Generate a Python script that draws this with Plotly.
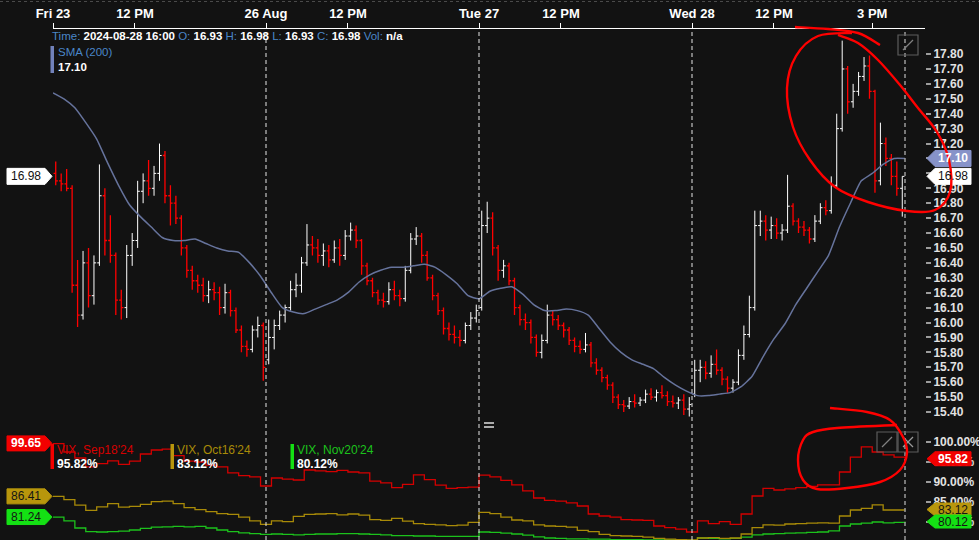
import plotly.graph_objects as go

# ---------------- DATA ----------------
# time axis: trading minutes since Fri 23 Aug 09:30 (regular sessions joined)
tick_vals = [0, 150, 390, 540, 780, 930, 1170, 1320, 1500]
tick_text = ["Fri 23", "12 PM", "26 Aug", "12 PM", "Tue 27", "12 PM", "Wed 28", "12 PM", "3 PM"]
session_breaks = [390, 780, 1170]
cursor_t = 1560

# 10-minute OHLC bars (bar centres)
bar_t = [5 + 10 * i for i in range(156)]

open_fri = [17.00,16.95,16.93,16.90,16.25,16.05,16.40,16.18,16.40,16.85,16.55,16.45,16.15,16.10,16.45,16.55,16.88,16.95,16.90,17.00,17.12,16.85,16.80,16.70,16.50,16.35,16.28,16.25,16.18,16.22,16.20,16.10,16.20,16.08,15.95,15.84,15.82,15.95,15.98]
high_fri = [17.08,17.00,17.03,16.92,16.42,16.48,16.50,16.45,17.06,16.90,16.72,16.47,16.22,16.52,16.60,16.95,17.00,17.09,17.05,17.20,17.15,16.92,16.85,16.72,16.52,16.38,16.32,16.30,16.28,16.27,16.24,16.26,16.22,16.10,15.98,15.88,15.98,16.04,16.00]
low_fri = [16.92,16.88,16.88,16.20,15.97,16.02,16.10,16.12,16.38,16.45,16.40,16.05,16.02,16.03,16.38,16.50,16.80,16.85,16.85,16.95,16.80,16.65,16.66,16.45,16.30,16.22,16.20,16.14,16.13,16.15,16.05,16.06,16.04,15.93,15.80,15.77,15.80,15.90,15.61]
close_fri = [16.95,16.93,16.90,16.25,16.05,16.40,16.18,16.40,16.85,16.55,16.45,16.15,16.10,16.45,16.55,16.88,16.95,16.90,17.00,17.12,16.85,16.80,16.70,16.50,16.35,16.28,16.25,16.18,16.22,16.20,16.10,16.20,16.08,15.95,15.84,15.82,15.95,15.98,15.70]

open_mon = [15.75,15.90,15.98,16.05,16.10,16.22,16.25,16.40,16.52,16.50,16.45,16.48,16.42,16.50,16.45,16.58,16.62,16.55,16.38,16.28,16.20,16.15,16.14,16.22,16.18,16.16,16.35,16.56,16.58,16.45,16.30,16.18,16.08,15.96,15.92,15.90,15.88,15.98,16.03]
high_mon = [16.02,16.02,16.08,16.12,16.28,16.33,16.44,16.66,16.58,16.56,16.53,16.52,16.55,16.56,16.62,16.67,16.65,16.56,16.40,16.30,16.22,16.20,16.27,16.28,16.22,16.38,16.60,16.64,16.60,16.48,16.32,16.20,16.10,16.00,15.98,15.95,16.00,16.07,16.12]
low_mon = [15.72,15.82,15.95,16.00,16.08,16.17,16.20,16.38,16.45,16.40,16.38,16.37,16.40,16.38,16.42,16.55,16.50,16.32,16.25,16.17,16.12,16.10,16.12,16.15,16.11,16.14,16.33,16.52,16.40,16.28,16.15,16.05,15.92,15.88,15.86,15.84,15.86,15.95,16.00]
close_mon = [15.90,15.98,16.05,16.10,16.22,16.25,16.40,16.52,16.50,16.45,16.48,16.42,16.50,16.45,16.58,16.62,16.55,16.38,16.28,16.20,16.15,16.14,16.22,16.18,16.16,16.35,16.56,16.58,16.45,16.30,16.18,16.08,15.96,15.92,15.90,15.88,15.98,16.03,16.08]

open_tue = [16.10,16.65,16.70,16.50,16.35,16.38,16.28,16.10,16.02,16.00,15.90,15.80,15.88,16.05,16.02,15.98,15.95,15.88,15.84,15.82,15.85,15.73,15.68,15.63,15.58,15.50,15.45,15.44,15.47,15.46,15.48,15.52,15.50,15.53,15.51,15.47,15.46,15.48,15.42]
high_tue = [16.75,16.81,16.74,16.52,16.42,16.40,16.30,16.12,16.06,16.02,15.92,15.92,16.12,16.08,16.05,16.00,15.97,15.90,15.88,15.93,15.87,15.76,15.70,15.65,15.60,15.52,15.48,15.50,15.52,15.50,15.55,15.56,15.55,15.58,15.54,15.51,15.50,15.52,15.50]
low_tue = [16.08,16.60,16.45,16.28,16.30,16.25,16.05,15.98,15.95,15.86,15.77,15.76,15.86,15.98,15.95,15.90,15.85,15.80,15.79,15.80,15.70,15.65,15.60,15.55,15.46,15.42,15.40,15.42,15.43,15.44,15.46,15.48,15.47,15.49,15.44,15.43,15.42,15.38,15.37]
close_tue = [16.65,16.70,16.50,16.35,16.38,16.28,16.10,16.02,16.00,15.90,15.80,15.88,16.05,16.02,15.98,15.95,15.88,15.84,15.82,15.85,15.73,15.68,15.63,15.58,15.50,15.45,15.44,15.47,15.46,15.48,15.52,15.50,15.53,15.51,15.47,15.46,15.48,15.42,15.45]

open_wed = [15.52,15.68,15.70,15.66,15.72,15.68,15.62,15.56,15.60,15.78,15.92,16.10,16.65,16.68,16.62,16.65,16.60,16.62,16.78,16.68,16.64,16.62,16.56,16.68,16.77,16.75,16.92,17.30,17.70,17.48,17.55,17.65,17.72,17.55,16.95,17.20,17.10,16.98,16.90]
high_wed = [15.75,15.75,15.74,15.78,15.82,15.70,15.64,15.62,15.82,15.98,16.18,16.75,16.75,16.72,16.71,16.70,16.66,16.99,16.80,16.70,16.68,16.64,16.72,16.80,16.82,16.98,17.40,17.89,17.72,17.60,17.68,17.78,17.79,17.56,17.34,17.24,17.13,17.08,16.98]
low_wed = [15.50,15.60,15.62,15.63,15.65,15.58,15.53,15.53,15.58,15.75,15.90,16.08,16.58,16.55,16.56,16.56,16.55,16.60,16.65,16.60,16.58,16.53,16.54,16.66,16.72,16.73,16.90,17.28,17.40,17.44,17.52,17.62,17.50,16.87,16.92,17.05,16.92,16.85,16.71]
close_wed = [15.68,15.70,15.66,15.72,15.68,15.62,15.56,15.60,15.78,15.92,16.10,16.65,16.68,16.62,16.65,16.60,16.62,16.78,16.68,16.64,16.62,16.56,16.68,16.77,16.75,16.92,17.30,17.70,17.48,17.55,17.65,17.72,17.55,16.95,17.20,17.10,16.98,16.90,16.98]

# SMA(200) and VIX futures % lines, sampled every 20 minutes
line_t = list(range(0, 1561, 20))
sma200 = [17.54,17.50,17.44,17.34,17.23,17.07,16.92,16.79,16.71,16.64,
          16.57,16.55,16.55,16.56,16.53,16.50,16.48,16.47,16.40,16.31,
          16.20,16.10,16.07,16.06,16.09,16.12,16.15,16.20,16.27,16.32,
          16.35,16.37,16.37,16.38,16.39,16.37,16.32,16.26,16.18,16.16,
          16.21,16.23,16.24,16.19,16.12,16.08,16.08,16.09,16.08,16.05,
          15.96,15.87,15.80,15.75,15.72,15.69,15.63,15.58,15.54,15.51,
          15.51,15.52,15.53,15.57,15.64,15.77,15.89,15.99,16.12,16.23,
          16.34,16.45,16.64,16.80,16.95,17.00,17.06,17.10,17.10]
vix_sep = [99.6,97.5,96.0,93.8,94.6,95.3,94.4,95.2,97.0,98.0,
           98.2,96.6,95.2,95.0,94.2,93.8,92.3,91.6,91.3,89.0,
           91.0,90.7,90.5,93.0,92.8,92.6,92.9,92.5,92.3,90.2,
           89.8,88.6,89.4,91.8,90.6,89.2,88.4,88.6,88.7,91.7,
           91.3,90.4,89.3,87.8,86.0,85.4,85.2,84.8,84.0,82.0,
           81.5,81.2,80.6,80.5,80.4,79.0,78.6,78.2,77.5,80.3,
           79.6,80.1,79.4,82.0,86.5,88.4,88.0,88.3,88.6,88.9,
           89.3,89.3,92.5,96.2,98.8,97.5,96.8,96.2,95.82]
vix_oct = [86.4,85.6,84.2,82.9,83.8,84.6,83.7,83.9,84.4,85.1,
           85.2,84.6,83.6,83.1,82.6,82.1,81.9,81.2,80.3,79.4,
           80.3,80.1,81.4,81.9,82.0,82.1,81.8,82.0,81.7,80.6,
           80.4,80.9,80.2,79.6,79.4,79.3,79.1,79.2,79.9,82.4,
           82.1,81.2,80.5,80.3,79.3,79.0,78.9,78.7,77.9,77.6,
           76.9,76.6,76.5,76.4,76.2,75.9,75.7,75.6,75.5,76.0,
           76.1,75.9,76.0,77.0,78.6,79.3,79.2,79.5,79.6,79.7,
           79.8,79.7,81.5,83.0,83.4,84.3,83.0,83.0,83.12]
vix_nov = [81.2,80.3,78.5,77.6,77.5,77.6,77.7,78.0,78.4,78.7,
           78.8,78.9,78.8,78.9,78.5,78.0,77.6,77.3,77.1,76.9,
           77.0,76.9,76.8,76.9,77.0,77.0,77.1,77.1,77.0,76.9,
           76.8,76.6,76.6,76.5,76.5,76.4,76.4,76.4,76.4,77.5,
           77.4,77.2,77.0,76.7,76.3,76.0,75.9,75.8,75.8,75.7,
           75.7,75.6,75.6,75.6,75.5,75.5,75.5,75.4,75.4,76.0,
           75.9,75.8,75.9,76.2,76.8,77.0,77.1,77.2,77.3,77.4,
           77.5,77.8,79.0,79.5,79.7,80.0,79.8,79.9,80.12]

price_ticks = ["15.40","15.50","15.60","15.70","15.80","15.90","16.00","16.10","16.20","16.30",
               "16.40","16.50","16.60","16.70","16.80","16.90","17.00","17.10","17.20","17.30",
               "17.40","17.50","17.60","17.70","17.80"]
pct_ticks = [80, 85, 90, 95, 100]

last_close = 16.98
sma_last = 17.10
vix_names = ["VIX, Sep18'24", "VIX, Oct16'24", "VIX, Nov20'24"]
vix_last = [95.82, 83.12, 80.12]
vix_first = [99.65, 86.41, 81.24]

# ---------------- STYLE ----------------
W, H = 979, 540
ML, MR, MT, MB = 53, 54, 29, 0
PW, PH = W - ML - MR, H - MT - MB
BG = "#121212"
FONT = "Liberation Sans, Arial, sans-serif"
BLUE_LBL = "#4a86c8"
C_SEP, C_OCT, C_NOV = "#d40000", "#a88a08", "#1cc21c"
B_SEP, B_OCT, B_NOV = "#f20000", "#b8960c", "#14e014"


def px(x):
    return (x - ML) / PW


def py(y):
    return (H - MB - y) / PH


def smooth_path(pts):
    P = [(px(a), py(b)) for a, b in pts]
    n = len(P)
    d = "M %.5f,%.5f" % P[0]
    for i in range(n - 1):
        p0 = P[i - 1] if i > 0 else P[i]
        p1, p2 = P[i], P[i + 1]
        p3 = P[i + 2] if i + 2 < n else P[i + 1]
        c1 = (p1[0] + (p2[0] - p0[0]) / 6, p1[1] + (p2[1] - p0[1]) / 6)
        c2 = (p2[0] - (p3[0] - p1[0]) / 6, p2[1] - (p3[1] - p1[1]) / 6)
        d += " C %.5f,%.5f %.5f,%.5f %.5f,%.5f" % (c1[0], c1[1], c2[0], c2[1], p2[0], p2[1])
    return d


opens = open_fri + open_mon + open_tue + open_wed
highs = high_fri + high_mon + high_tue + high_wed
lows = low_fri + low_mon + low_tue + low_wed
closes = close_fri + close_mon + close_tue + close_wed

fig = go.Figure()
fig.add_trace(go.Ohlc(x=bar_t, open=opens, high=highs, low=lows, close=closes,
                      increasing=dict(line=dict(color="#ffffff", width=1)),
                      decreasing=dict(line=dict(color="#ff0000", width=1.3)),
                      tickwidth=0.4, hoverinfo="skip", yaxis="y"))
fig.add_trace(go.Scatter(x=line_t, y=sma200, mode="lines", yaxis="y",
                         line=dict(color="#66739c", width=1.5, shape="spline", smoothing=0.5),
                         hoverinfo="skip"))
for vals, col in [(vix_nov, C_NOV), (vix_oct, C_OCT), (vix_sep, C_SEP)]:
    fig.add_trace(go.Scatter(x=line_t, y=vals, mode="lines", yaxis="y2",
                             line=dict(color=col, width=1.3, shape="hv"), hoverinfo="skip"))

shapes = []
annots = []

# session separators & cursor
for t in session_breaks:
    shapes.append(dict(type="line", xref="x", yref="paper", x0=t, x1=t, y0=0, y1=1,
                       line=dict(color="#e6e6e6", width=1, dash="4px,3px"), layer="above"))
shapes.append(dict(type="line", xref="x", yref="paper", x0=cursor_t, x1=cursor_t, y0=0, y1=1,
                   line=dict(color="#9a9a9a", width=1.5, dash="4px,3px"), layer="above"))
shapes.append(dict(type="line", xref="paper", yref="paper", x0=px(0), x1=px(W), y0=py(1.5), y1=py(1.5),
                   line=dict(color="#4a4a4a", width=1, dash="3px,3px")))


def value_box(yref, yval, side, fill, text, tcolor, half, bold):
    if side == "right":
        tip = 927
        path = "M 0,0 L 8,%g L 44,%g L 44,%g L 8,%g Z" % (half, half, -half, -half)
        cx = tip + 26
    else:
        tip = 52
        path = "M 0,0 L -7,%g L -45,%g L -45,%g L -7,%g Z" % (half, half, -half, -half)
        cx = tip - 26
    shapes.append(dict(type="path", xref="paper", yref=yref, xsizemode="pixel", ysizemode="pixel",
                       xanchor=px(tip), yanchor=yval, path=path, fillcolor=fill,
                       line=dict(color=fill, width=1), layer="above"))
    annots.append(dict(x=px(cx), y=yval, xref="paper", yref=yref, text=text, showarrow=False,
                       xanchor="center", yanchor="middle",
                       font=dict(family=FONT, size=12, color=tcolor, weight="bold" if bold else "normal")))


value_box("y", sma_last, "right", "#8793c9", "%.2f" % sma_last, "#ffffff", 8, True)
value_box("y", last_close, "right", "#ffffff", "%.2f" % last_close, "#111111", 8, False)
value_box("y", last_close, "left", "#ffffff", "%.2f" % last_close, "#111111", 8, False)
value_box("y2", vix_last[0], "right", B_SEP, "%.2f" % vix_last[0], "#ffffff", 7, True)
value_box("y2", vix_last[1], "right", B_OCT, "%.2f" % vix_last[1], "#151515", 6.5, False)
value_box("y2", vix_last[2], "right", B_NOV, "%.2f" % vix_last[2], "#151515", 6.5, False)
value_box("y2", vix_first[0], "left", B_SEP, "%.2f" % vix_first[0], "#ffffff", 7.5, True)
value_box("y2", vix_first[1], "left", B_OCT, "%.2f" % vix_first[1], "#151515", 7.5, False)
value_box("y2", vix_first[2], "left", B_NOV, "%.2f" % vix_first[2], "#151515", 7.5, False)

# top-left info
def lbl(s):
    return '<span style="color:%s">%s</span>' % (BLUE_LBL, s)


info = (lbl("Time:") + " <b>2024-08-28 16:00</b> " + lbl("O:") + " <b>16.93</b> " + lbl("H:") +
        " <b>16.98</b> " + lbl("L:") + " <b>16.93</b> " + lbl("C:") + " <b>16.98</b> " +
        lbl("Vol:") + " <b>n/a</b>")
annots.append(dict(x=px(50), y=py(36), xref="paper", yref="paper", text=info, showarrow=False,
                   xanchor="left", yanchor="middle", font=dict(family=FONT, size=11.5, color="#ffffff")))
shapes.append(dict(type="rect", xref="paper", yref="paper", x0=px(50.5), x1=px(54), y0=py(46), y1=py(73),
                   fillcolor="#7282bb", line=dict(width=0)))
annots.append(dict(x=px(56), y=py(52), xref="paper", yref="paper", text="SMA (200)", showarrow=False,
                   xanchor="left", yanchor="middle", font=dict(family=FONT, size=11.5, color=BLUE_LBL)))
annots.append(dict(x=px(56), y=py(67), xref="paper", yref="paper", text="%.2f" % sma_last, showarrow=False,
                   xanchor="left", yanchor="middle",
                   font=dict(family=FONT, size=11.5, color="#ffffff", weight="bold")))

# VIX legend entries
for bx, name, col, bar, last in [(50.5, vix_names[0], C_SEP, B_SEP, vix_last[0]),
                                 (170.5, vix_names[1], C_OCT, B_OCT, vix_last[1]),
                                 (290.5, vix_names[2], C_NOV, B_NOV, vix_last[2])]:
    shapes.append(dict(type="rect", xref="paper", yref="paper", x0=px(bx), x1=px(bx + 3.5),
                       y0=py(444), y1=py(469), fillcolor=bar, line=dict(width=0), layer="above"))
    annots.append(dict(x=px(bx + 4.5), y=py(449.5), xref="paper", yref="paper", text=name, showarrow=False,
                       xanchor="left", yanchor="middle", font=dict(family=FONT, size=12, color=col)))
    annots.append(dict(x=px(bx + 4.5), y=py(464), xref="paper", yref="paper", text="%.2f%%" % last,
                       showarrow=False, xanchor="left", yanchor="middle",
                       font=dict(family=FONT, size=12, color="#ffffff", weight="bold")))

# small UI icons
for x0, y0 in [(898, 35), (877, 432), (898, 432)]:
    shapes.append(dict(type="rect", xref="paper", yref="paper", x0=px(x0), x1=px(x0 + 20),
                       y0=py(y0), y1=py(y0 + 20), line=dict(color="#5c5c5c", width=1.2), layer="above"))
for x0, y0 in [(898, 35), (877, 432)]:
    shapes.append(dict(type="line", xref="paper", yref="paper", x0=px(x0 + 5), x1=px(x0 + 15),
                       y0=py(y0 + 15), y1=py(y0 + 5), line=dict(color="#808080", width=1.2), layer="above"))
shapes.append(dict(type="line", xref="paper", yref="paper", x0=px(903), x1=px(913), y0=py(437), y1=py(447),
                   line=dict(color="#9a9a9a", width=1.3), layer="above"))
shapes.append(dict(type="line", xref="paper", yref="paper", x0=px(903), x1=px(913), y0=py(447), y1=py(437),
                   line=dict(color="#9a9a9a", width=1.3), layer="above"))
for yy in [423, 427]:
    shapes.append(dict(type="line", xref="paper", yref="paper", x0=px(484), x1=px(494), y0=py(yy), y1=py(yy),
                       line=dict(color="#ffffff", width=1.3), layer="above"))

# hand-drawn red highlight loops
stroke_top = [(795, 27), (828, 29), (858, 33), (880, 45)]
loop_top = [(852, 33), (818, 36), (796, 56), (787, 88), (793, 127), (810, 160), (835, 187), (868, 202),
            (907, 211), (935, 210), (950, 192), (949, 160), (937, 132), (918, 108), (900, 85),
            (878, 60), (858, 43), (838, 35)]
loop_bottom = [(830, 408), (867, 412), (890, 420), (903, 437), (907, 453), (900, 470), (880, 482),
               (847, 488), (817, 489), (803, 480), (798, 460), (803, 440), (813, 432), (837, 428), (897, 425)]
for pts in [stroke_top, loop_top, loop_bottom]:
    shapes.append(dict(type="path", xref="paper", yref="paper", path=smooth_path(pts),
                       line=dict(color="#ff0000", width=2.4), layer="above"))

tick_font = dict(family=FONT, size=12, color="#e2e2e2", weight="bold")
fig.update_layout(
    width=W, height=H, margin=dict(l=ML, r=MR, t=MT, b=MB, pad=0, autoexpand=False),
    paper_bgcolor=BG, plot_bgcolor=BG, showlegend=False, hovermode=False, dragmode=False,
    xaxis=dict(range=[0, 1560 * (925 - ML) / (905 - ML)], side="top", tickvals=tick_vals,
               ticktext=tick_text, ticks="outside", ticklen=5, tickcolor="#ffffff", tickwidth=1,
               showline=True, linecolor="#ffffff", linewidth=1, showgrid=False, zeroline=False,
               tickfont=dict(family=FONT, size=13, color="#ffffff", weight="bold"),
               rangeslider=dict(visible=False), fixedrange=True, automargin=False),
    yaxis=dict(range=[14.542, 17.968], side="right", tickvals=[float(v) for v in price_ticks],
               ticktext=price_ticks, ticks="outside", ticklen=5, tickwidth=2, tickcolor="#9c9c9c",
               showgrid=False, zeroline=False, showline=False, tickfont=tick_font, fixedrange=True,
               automargin=False),
    yaxis2=dict(range=[75.5, 203.25], overlaying="y", side="right", anchor="x",
                tickvals=pct_ticks, ticktext=["%.2f%%" % v for v in pct_ticks], ticks="outside",
                ticklen=5, tickwidth=2, tickcolor="#9c9c9c", showgrid=False,
                zeroline=False, showline=False, tickfont=tick_font, fixedrange=True, automargin=False),
    shapes=shapes, annotations=annots,
)

fig.write_html("out.html", config={"displayModeBar": False},
               post_script="document.body.style.margin='0';document.body.style.overflow='hidden';"
                           "document.body.style.background='%s';" % BG)
